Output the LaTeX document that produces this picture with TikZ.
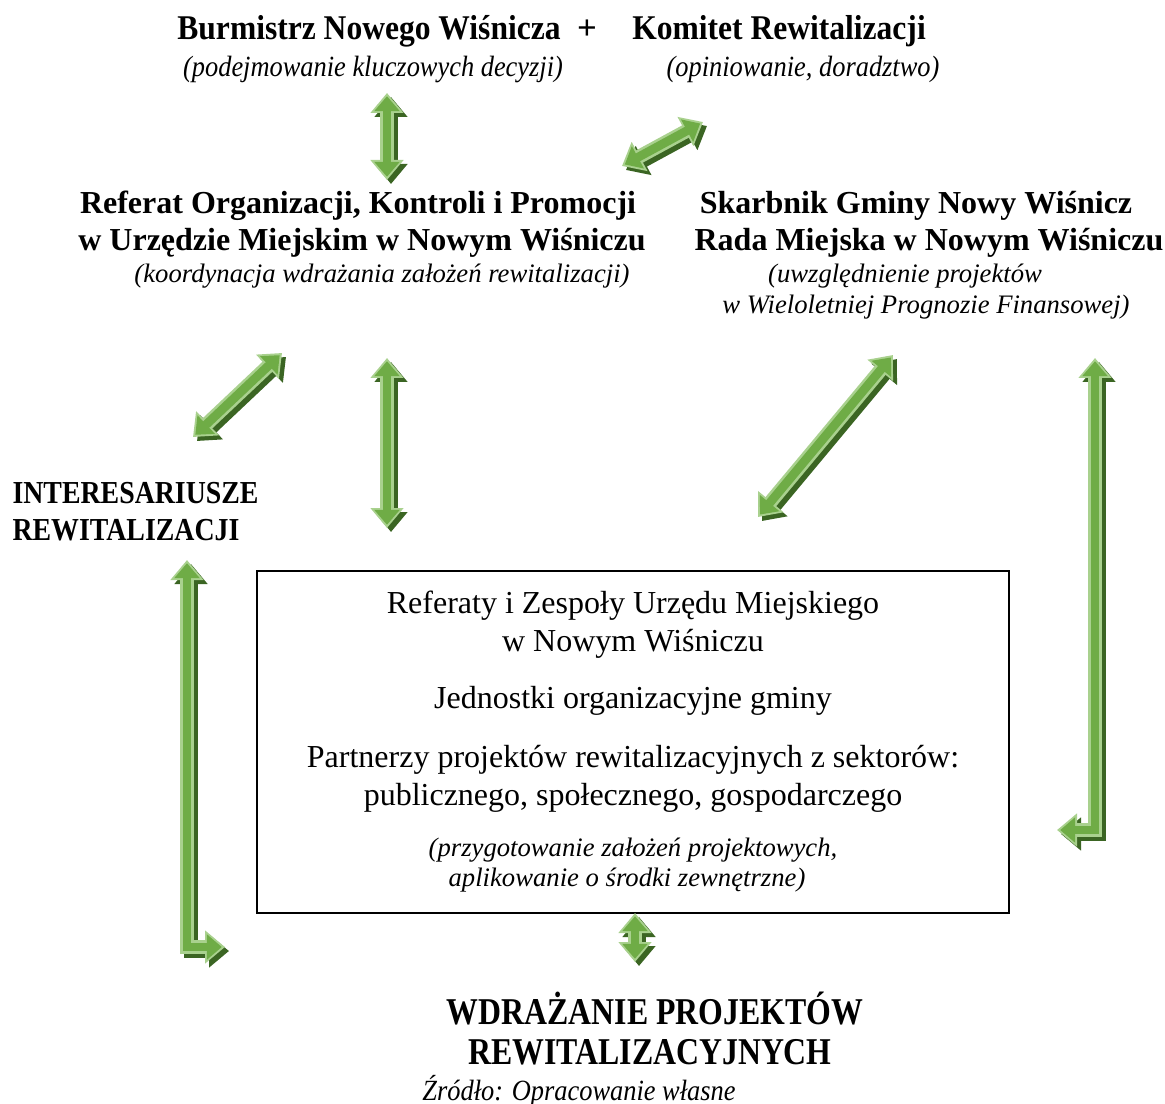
\documentclass[tikz,border=0pt]{standalone}
\usepackage{fontspec}
\setmainfont{Liberation Serif}
\usetikzlibrary{arrows.meta}
\definecolor{arrdark}{HTML}{3B6523}
\definecolor{arrlight}{HTML}{A9D18E}
\definecolor{arrmid}{HTML}{6FAC46}
\newcommand{\cnd}[2]{\scalebox{#1}[1]{#2}}
\newcommand{\greenarrow}[1]{\draw[arrshadow] #1; \draw[arrouter] #1; \draw[arrinner] #1;}
\tikzset{
  toptxt/.style={font=\bfseries\fontsize{13}{15}\selectfont,inner sep=0pt,anchor=base},
  topnote/.style={font=\itshape\fontsize{11}{13}\selectfont,inner sep=0pt,anchor=base},
  hdr/.style={font=\bfseries\fontsize{12}{14}\selectfont,inner sep=0pt,anchor=base},
  note/.style={font=\itshape\fontsize{10}{12}\selectfont,inner sep=0pt,anchor=base},
  txt/.style={font=\fontsize{12}{14}\selectfont,inner sep=0pt,anchor=base},
  bigtxt/.style={font=\bfseries\fontsize{14.2}{16}\selectfont,inner sep=0pt,anchor=base},
  arrshadow/.style={draw=arrdark,line width=5.25pt,
    {Triangle[length=7.5pt 0 0,width=12pt 0 0]}-{Triangle[length=7.5pt 0 0,width=12pt 0 0]},
    transform canvas={xshift=1.5pt,yshift=-1.5pt}},
  arrouter/.style={draw=arrlight,line width=5.25pt,
    {Triangle[length=7.5pt 0 0,width=12pt 0 0]}-{Triangle[length=7.5pt 0 0,width=12pt 0 0]}},
  arrinner/.style={draw=arrmid,line width=3.3pt,shorten <=1.2pt,shorten >=1.2pt,
    {Triangle[length=5.6pt 0 0,width=9.2pt 0 0]}-{Triangle[length=5.6pt 0 0,width=9.2pt 0 0]}}
}
\begin{document}
\begin{tikzpicture}[x=0.375pt,y=-0.375pt]
\useasboundingbox (0,0) rectangle (1165,1104);
\node[toptxt] (burm) at (369,40) {\cnd{0.91}{Burmistrz Nowego Wiśnicza}};
\node[toptxt] (plus) at (587,40) {+};
\node[toptxt] (kom) at (779,40) {\cnd{0.91}{Komitet Rewitalizacji}};
\node[topnote] (podej) at (373,77) {\cnd{0.9}{(podejmowanie kluczowych decyzji)}};
\node[topnote] (opin) at (803,77) {\cnd{0.9}{(opiniowanie, doradztwo)}};

\node[hdr] (ref1) at (358,214) {Referat Organizacji, Kontroli i Promocji};
\node[hdr] (ref2) at (362,251) {w Urzędzie Miejskim w Nowym Wiśniczu};
\node[note] (koord) at (382,283) {(koordynacja wdrażania założeń rewitalizacji)};
\node[hdr] (skarb) at (916,214) {Skarbnik Gminy Nowy Wiśnicz};
\node[hdr] (rada) at (929,251) {Rada Miejska w Nowym Wiśniczu};
\node[note] (uwzgl) at (905,283) {(uwzględnienie projektów};
\node[note] (wielo) at (926,314) {w Wieloletniej Prognozie Finansowej)};

\node[hdr,anchor=base west] (inter) at (12,503) {\cnd{0.87}{INTERESARIUSZE}};
\node[hdr,anchor=base west] (rewit) at (12,540) {\cnd{0.87}{REWITALIZACJI}};

\node[draw,line width=0.75pt,minimum width=282pt,minimum height=128.25pt] (zespoly) at (633,742) {};
\node[txt] (zes1) at (633,613) {Referaty i Zespoły Urzędu Miejskiego};
\node[txt] (zes2) at (633,651) {w Nowym Wiśniczu};
\node[txt] (jedn) at (633,708) {Jednostki organizacyjne gminy};
\node[txt] (part1) at (633,767) {Partnerzy projektów rewitalizacyjnych z sektorów:};
\node[txt] (part2) at (633,805) {publicznego, społecznego, gospodarczego};
\node[note] (przyg) at (633,856) {(przygotowanie założeń projektowych,};
\node[note] (aplik) at (627,886) {aplikowanie o środki zewnętrzne)};

\node[bigtxt] (wdr1) at (655,1024) {\cnd{0.84}{WDRAŻANIE PROJEKTÓW}};
\node[bigtxt] (wdr2) at (650,1064) {\cnd{0.84}{REWITALIZACYJNYCH}};
\node[topnote] (zrodlo) at (579,1100) {\cnd{0.9}{Źródło: Opracowanie własne}};

\coordinate (a1t) at (387,93);
\coordinate (a1b) at (387,180);
\coordinate (a2l) at (622,166);
\coordinate (a2r) at (703,122);
\coordinate (a3l) at (193,437);
\coordinate (a3r) at (282,353);
\coordinate (a4t) at (387,358);
\coordinate (a4b) at (387,528);
\coordinate (a5l) at (758,517);
\coordinate (a5r) at (893,355);
\coordinate (a6t) at (1095,358);
\coordinate (a6e) at (1057,830);
\coordinate (a7t) at (187,560);
\coordinate (a7e) at (225,947);
\coordinate (a8t) at (635,913);
\coordinate (a8b) at (635,962);

\greenarrow{(a1t) -- (a1b)}
\greenarrow{(a2l) -- (a2r)}
\greenarrow{(a3l) -- (a3r)}
\greenarrow{(a4t) -- (a4b)}
\greenarrow{(a5l) -- (a5r)}
\greenarrow{(a6t) |- (a6e)}
\greenarrow{(a7t) |- (a7e)}
\greenarrow{(a8t) -- (a8b)}
\end{tikzpicture}
\end{document}
